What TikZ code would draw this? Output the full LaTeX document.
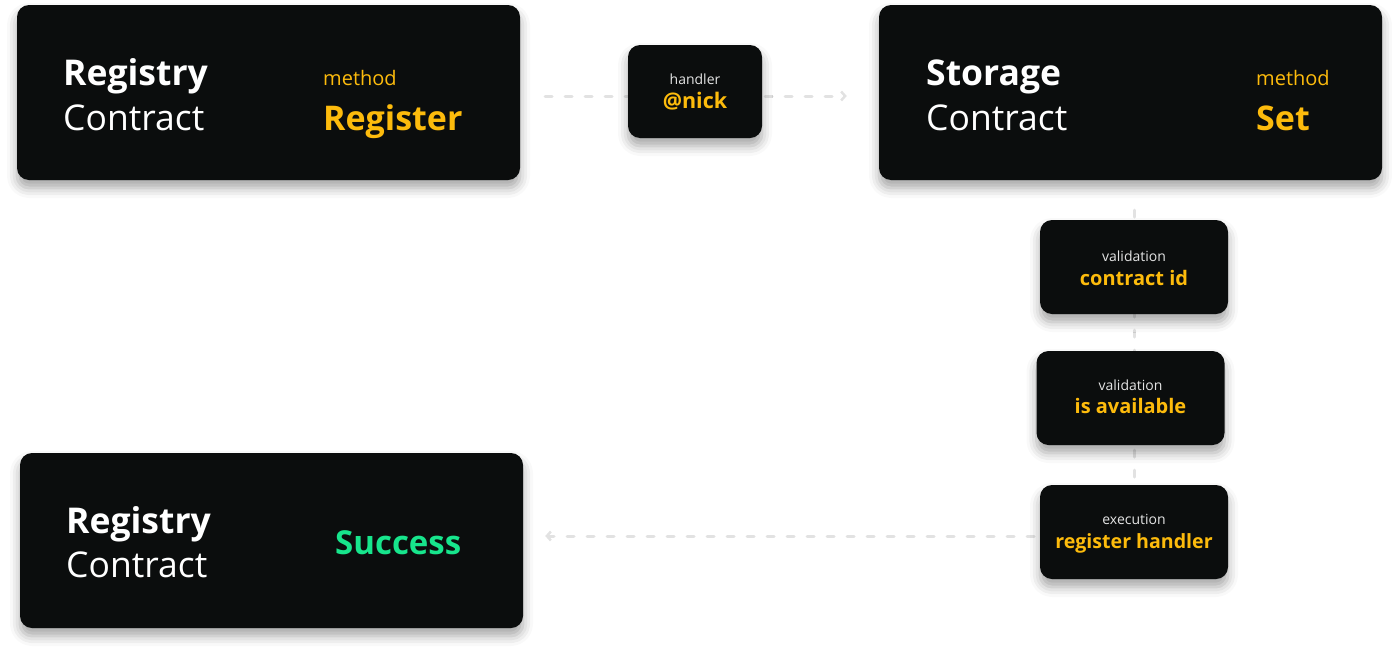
\documentclass[tikz,border=0pt]{standalone}
\usepackage{fontspec}
\setmainfont{Open Sans}
\usepackage{tikz}
\usetikzlibrary{arrows.meta,backgrounds,shadows.blur}

\definecolor{boxbg}{HTML}{0B0D0D}
\definecolor{accent}{HTML}{FDBB0C}
\definecolor{okgreen}{HTML}{17E58C}
\definecolor{dimtext}{HTML}{E4E4E4}
\definecolor{dashgray}{HTML}{E2E2E2}

\begin{document}
\begin{tikzpicture}[x=1pt,y=-1pt,
  card/.style={rectangle,rounded corners=12pt,fill=boxbg,inner sep=0pt,
    blur shadow={shadow xshift=0pt,shadow yshift=-8pt,shadow blur radius=10pt,shadow opacity=35}},
  bigcard/.style={card,minimum width=503pt,minimum height=175pt},
  smallcard/.style={card,minimum width=188pt,minimum height=94pt},
  title/.style={anchor=base west,inner sep=0pt,text=white,font=\fontsize{35.5}{35.5}\selectfont\bfseries},
  subtitle/.style={anchor=base west,inner sep=0pt,text=white,font=\fontsize{35.5}{35.5}\selectfont},
  tag/.style={anchor=base west,inner sep=0pt,text=accent,font=\fontsize{20}{20}\selectfont},
  value/.style={anchor=base west,inner sep=0pt,text=accent,font=\fontsize{34}{34}\selectfont\bfseries},
  smallhead/.style={anchor=base,inner sep=0pt,text=dimtext,font=\fontsize{14}{14}\selectfont},
  smallval/.style={anchor=base,inner sep=0pt,text=accent,font=\fontsize{20}{20}\selectfont\bfseries},
  flow/.style={draw=dashgray,line width=3pt,line cap=round,dash pattern=on 7pt off 13pt,
    -{Straight Barb[length=4pt,width=9pt,line width=2.5pt]}}]
\useasboundingbox (0,0) rectangle (1392,651);

% boxes
\node[bigcard] (regA) at (268.5,92.5) {};
\node[card,minimum width=134pt,minimum height=93pt] (hand) at (695,91.5) {};
\node[bigcard] (stor) at (1130.5,92.5) {};
\node[smallcard] (valA) at (1134,267) {};
\node[smallcard] (valB) at (1130.5,398) {};
\node[smallcard] (exec) at (1134,532) {};
\node[bigcard] (regB) at (271.5,540.5) {};

% texts
\node[title] (regAt) at (63,85) {Registry};
\node[subtitle] (regAs) at (63,130) {Contract};
\node[tag] (regAm) at (323,85) {method};
\node[value] (regAv) at (323,130) {Register};

\node[smallhead] (handh) at (695,84) {handler};
\node[smallval,font=\fontsize{21.5}{21.5}\selectfont\bfseries] (handv) at (695,108) {@nick};

\node[title] (stort) at (926,85) {Storage};
\node[subtitle] (stors) at (926,130) {Contract};
\node[tag] (storm) at (1256,85) {method};
\node[value] (storv) at (1256,130) {Set};

\node[smallhead] (valAh) at (1134,261) {validation};
\node[smallval] (valAv) at (1134,285) {contract id};
\node[smallhead] (valBh) at (1130.5,390) {validation};
\node[smallval] (valBv) at (1130.5,413) {is available};
\node[smallhead] (exech) at (1134,524) {execution};
\node[smallval,font=\fontsize{19.6}{19.6}\selectfont\bfseries] (execv) at (1134,548) {register handler};

\node[title] (regBt) at (66,533) {Registry};
\node[subtitle] (regBs) at (66,577) {Contract};
\node[value,text=okgreen,font=\fontsize{33}{33}\selectfont\bfseries] (regBv) at (335,554) {Success};

% connectors
\begin{scope}[on background layer]
\draw[flow,shorten <=25pt,shorten >=32pt] ([yshift=-3.5pt]regA.east) -- ([yshift=-3.5pt]stor.west);
\draw[draw=dashgray,line width=3pt,line cap=round,dash pattern=on 7pt off 13pt,shorten <=30pt]
  (stor.south -| valA) -- (exec);
\draw[flow,shorten >=22pt] ([yshift=-4pt]exec.center) -- ([yshift=-4pt]exec -| regB.east);
\end{scope}
\end{tikzpicture}
\end{document}
